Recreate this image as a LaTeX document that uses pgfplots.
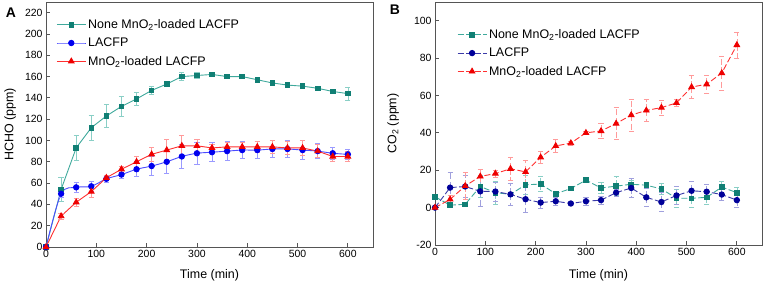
\documentclass[border=0pt]{standalone}
\usepackage{fontspec}
\setmainfont{Liberation Sans}
\usepackage{pgfplots}
\pgfplotsset{compat=1.18}

\definecolor{tealM}{HTML}{107F74}
\definecolor{tealL}{HTML}{3FA99C}
\definecolor{tealE}{HTML}{8ACFC6}
\definecolor{blueM}{HTML}{0000EE}
\definecolor{blueL}{HTML}{4C4CFF}
\definecolor{blueE}{HTML}{9A9AFF}
\definecolor{navyM}{HTML}{000099}
\definecolor{navyL}{HTML}{3A3AA8}
\definecolor{navyE}{HTML}{A0A0DD}
\definecolor{redM}{HTML}{EE0000}
\definecolor{redL}{HTML}{FF3030}
\definecolor{redE}{HTML}{FF9A9A}
\definecolor{frameC}{HTML}{555555}

% Panel A data: x, y, error
\pgfplotstableread{
x y e
0 0 0
30 54 11
60 93 12
90 112 12
120 123 11
150 132 9
180 139 6
210 147 4
240 153 2
270 160 4
300 161 3
330 162 1.5
360 160 1.5
390 160 1.5
420 157 1.5
450 154 1.5
480 152 1.5
510 151 1.5
540 149 1.5
570 146 2
600 144 6
}\tealA
\pgfplotstableread{
x y e
0 0 0
30 50 3
60 56 5
90 57 5
120 64 3
150 68 4
180 73 7
210 76 9
240 80 11
270 85 11
300 88 10
330 89 9
360 90 9
390 91 8
420 91 8
450 92 8
480 92 8
510 91 9
540 90 7
570 88 6
600 87 5
}\blueA
\pgfplotstableread{
x y e
0 0 0
30 29 3
60 42 4
90 52 5
120 65 2
150 73 3
180 80 5
210 87 7
240 91 10
270 95 10
300 95 6
330 93 3
360 94 4
390 94 4
420 94 5
450 94 6
480 93 6
510 93 7
540 90 6
570 85 5
600 85 5
}\redA

% Panel B data
\pgfplotstableread{
x y e
0 5.8 1
30 1.3 1
60 1.8 1
90 11.3 6
120 8.0 6
150 7.1 6
180 12.2 5
210 12.6 4
240 7.4 1
270 10.2 1
300 14.7 1
330 10.5 3
360 11.5 5
390 12.5 2
420 12 1
450 10 3
480 5 5
510 5 5
540 5.5 4
570 11 3
600 8 3
}\tealB
\pgfplotstableread{
x y e
0 0 0
30 10.7 8
60 11.3 6
90 8.7 8
120 8.6 5
150 7.1 6
180 4.5 7
210 2.7 3
240 3.4 2
270 2.2 1
300 3.4 2
330 4 2
360 8 2
390 10.5 5
420 5.5 5
450 3 5
480 6.5 5
510 9 5
540 8.5 4
570 7 3
600 4 4
}\navyB
\pgfplotstableread{
x y e
0 0 0
30 4.4 2
60 11.6 7
90 16.7 4
120 18.2 2
150 20.8 6
180 19.1 6
210 26.9 3
240 33 3.5
270 34.5 1
300 40 1
330 41 4
360 45 8.5
390 49.5 8.5
420 52 6
450 53.5 4
480 56 2
510 64.5 6
540 66 5
570 72 9
600 87 7
}\redB

\pgfplotsset{
  base/.style={
    scale only axis,
    axis line style={frameC, line width=0.9bp},
    tick style={frameC, line width=0.8bp},
    major tick length=4bp,
    tick align=inside,
    xtick pos=bottom, ytick pos=left,
    /pgf/number format/assume math mode=true,
    ticklabel style={font=\fontsize{10.5}{12}\selectfont},
    label style={font=\fontsize{12.5}{14}\selectfont},
    legend style={draw=none, fill=none, font=\fontsize{12.5}{14}\selectfont,
      anchor=north west, row sep=4bp, inner sep=1bp},
    legend cell align=left,
    legend image code/.code={\draw[mark repeat=2,mark phase=2,##1] plot coordinates {(0bp,0bp) (14.5bp,0bp) (29bp,0bp)};},
    xmin=0, xmax=650,
    xtick={0,100,...,600},
    clip=false,
  },
  eb/.style={error bars/.cd, y dir=both, y explicit,
    error bar style={color=#1, line width=0.7bp},
    error mark options={rotate=90, mark size=2.6bp, color=#1, line width=0.7bp}},
}

\begin{document}
\begin{tikzpicture}[x=1bp,y=1bp]
\useasboundingbox (0,0) rectangle (765,286);

\node[font=\fontsize{14}{16}\selectfont\bfseries] at (11,273) {A};
\node[font=\fontsize{14}{16}\selectfont\bfseries] at (395,276) {B};

\begin{axis}[base,
  at={(46bp,39bp)}, anchor=south west, width=327bp, height=245bp,
  ymin=0, ymax=230, ytick={0,20,...,220},
  xlabel={Time (min)}, ylabel={HCHO (ppm)},
  xlabel style={at={(axis description cs:0.5,-0.114)}, anchor=center},
  ylabel style={at={(axis description cs:-0.110,0.5)}, anchor=center},
  legend style={at={(axis description cs:0.028,0.942)}},
]
\addplot[color=tealL, line width=0.9bp, mark=square*, mark size=2.3bp,
  mark options={fill=tealM, draw=tealM}, eb=tealE]
  table[x=x, y=y, y error=e]{\tealA};
\addlegendentry{None MnO\textsubscript{2}-loaded LACFP}
\addplot[color=blueL, line width=0.9bp, smooth, mark=*, mark size=2.7bp,
  mark options={fill=blueM, draw=blueM}, eb=blueE]
  table[x=x, y=y, y error=e]{\blueA};
\addlegendentry{LACFP}
\addplot[color=redL, line width=0.9bp, mark=triangle*, mark size=3.2bp,
  mark options={fill=redM, draw=redM}, eb=redE]
  table[x=x, y=y, y error=e]{\redA};
\addlegendentry{MnO\textsubscript{2}-loaded LACFP}
\end{axis}

\begin{axis}[base,
  at={(435bp,41bp)}, anchor=south west, width=327bp, height=243bp,
  ymin=-20, ymax=110, ytick={-20,0,...,100},
  xlabel={Time (min)}, ylabel={CO\textsubscript{2} (ppm)},
  xlabel style={at={(axis description cs:0.5,-0.123)}, anchor=center},
  ylabel style={at={(axis description cs:-0.128,0.5)}, anchor=center},
  legend style={at={(axis description cs:0.064,0.90)}},
]
\addplot[color=tealL, line width=0.9bp, dash pattern=on 6bp off 2.5bp, mark=square*, mark size=2.3bp,
  mark options={fill=tealM, draw=tealM, solid}, eb=tealE]
  table[x=x, y=y, y error=e]{\tealB};
\addlegendentry{None MnO\textsubscript{2}-loaded LACFP}
\addplot[color=navyL, line width=0.9bp, dash pattern=on 6bp off 2.5bp, mark=*, mark size=2.7bp,
  mark options={fill=navyM, draw=navyM, solid}, eb=navyE]
  table[x=x, y=y, y error=e]{\navyB};
\addlegendentry{LACFP}
\addplot[color=redL, line width=0.9bp, dash pattern=on 6bp off 2.5bp, mark=triangle*, mark size=3.2bp,
  mark options={fill=redM, draw=redM, solid}, eb=redE]
  table[x=x, y=y, y error=e]{\redB};
\addlegendentry{MnO\textsubscript{2}-loaded LACFP}
\end{axis}
\end{tikzpicture}
\end{document}
